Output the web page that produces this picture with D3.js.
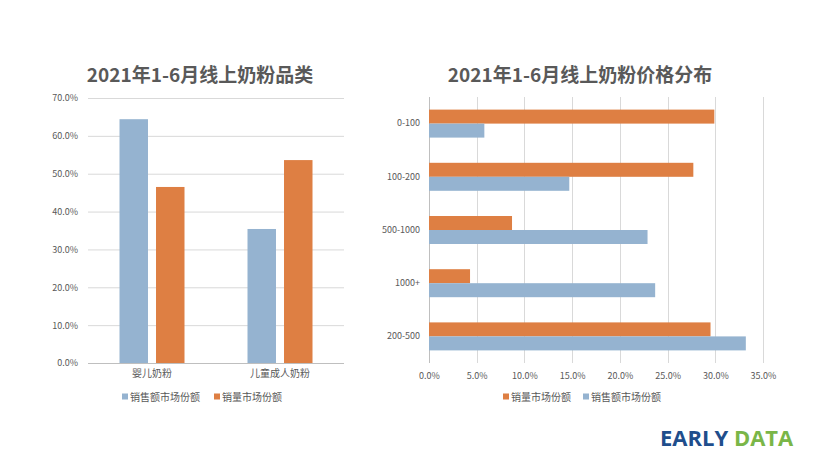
<!DOCTYPE html>
<html lang="zh">
<head>
<meta charset="utf-8">
<title>2021年1-6月线上奶粉</title>
<script src="https://d3js.org/d3.v7.min.js"></script>
<style>
  body { margin: 0; background: #fff; }
  text { font-family: "Noto Sans CJK SC", "DejaVu Sans", sans-serif; fill: #595959; }
</style>
</head>
<body>
<div id="chart"></div>
<script>
// ---- data ----
var catLeft = ["婴儿奶粉", "儿童成人奶粉"];
var salesShareLeft = [0.644, 0.354];   // 销售额市场份额
var volumeShareLeft = [0.465, 0.536];  // 销量市场份额
var yTicksLeft = [0, 0.1, 0.2, 0.3, 0.4, 0.5, 0.6, 0.7];

var catRight = ["0-100", "100-200", "500-1000", "1000+", "200-500"];
var volumeShareRight = [0.299, 0.277, 0.087, 0.043, 0.295];
var salesShareRight = [0.058, 0.147, 0.229, 0.237, 0.332];
var xTicksRight = [0, 0.05, 0.10, 0.15, 0.20, 0.25, 0.30, 0.35];

var seriesNames = ["销售额市场份额", "销量市场份额"];
var blue = "#95b3d0", orange = "#de7f43";
var color = d3.scaleOrdinal().domain(seriesNames).range([blue, orange]);

var W = 813, H = 456;
var svg = d3.select("#chart").append("svg")
  .attr("width", W).attr("height", H);

var pct = d3.format(".1%");

// ---------------- LEFT CHART ----------------
var xL = d3.scaleBand().domain(catLeft).range([88, 344]);
var yL = d3.scaleLinear().domain([0, 0.7]).range([363, 98]);
var innerL = d3.scaleBand().domain(seriesNames).range([-32.5, 32.5]).paddingInner(0.22);

svg.append("text")
  .attr("x", 200).attr("y", 82)
  .attr("text-anchor", "middle")
  .style("font-size", "19px").style("font-weight", "bold")
  .text("2021年1-6月线上奶粉品类");

// gridlines
svg.append("g").selectAll("line")
  .data(yTicksLeft).enter().append("line")
    .attr("x1", 88).attr("x2", 344)
    .attr("y1", function(d){ return yL(d) + 0.5; })
    .attr("y2", function(d){ return yL(d) + 0.5; })
    .style("stroke", function(d){ return d === 0 ? "#bfbfbf" : "#d9d9d9"; })
    .style("stroke-width", 1);

// y axis labels
svg.append("g")
  .attr("transform", "translate(78,0)")
  .call(d3.axisLeft(yL).tickValues(yTicksLeft).tickFormat(pct).tickSize(0).tickPadding(0))
  .call(function(g){ g.select(".domain").remove(); })
  .selectAll("text")
    .style("font-size", "9px").style("fill", "#595959");

var rowsL = catLeft.map(function(c, i){
  return { cat: c, vals: [
    { s: seriesNames[0], v: salesShareLeft[i] },
    { s: seriesNames[1], v: volumeShareLeft[i] } ] };
});

svg.append("g").selectAll("g")
  .data(rowsL).enter().append("g")
    .attr("transform", function(d){ return "translate(" + (xL(d.cat) + xL.bandwidth() / 2) + ",0)"; })
  .selectAll("rect")
  .data(function(d){ return d.vals; }).enter().append("rect")
    .attr("x", function(d){ return innerL(d.s); })
    .attr("width", innerL.bandwidth())
    .attr("y", function(d){ return yL(d.v); })
    .attr("height", function(d){ return yL(0) - yL(d.v); })
    .style("fill", function(d){ return color(d.s); });

// x axis labels
svg.append("g")
  .attr("transform", "translate(0,370)")
  .call(d3.axisBottom(xL).tickSize(0).tickPadding(0))
  .call(function(g){ g.select(".domain").remove(); })
  .selectAll("text")
    .attr("dy", "0.71em")
    .style("font-size", "10px").style("fill", "#595959");

// legend left
var legL = [{ s: seriesNames[0], x: 122 }, { s: seriesNames[1], x: 214 }];
var lgL = svg.append("g").selectAll("g").data(legL).enter().append("g")
  .attr("transform", function(d){ return "translate(" + d.x + ",397)"; });
lgL.append("rect").attr("x", 0).attr("y", -3.5).attr("width", 6).attr("height", 6)
  .style("fill", function(d){ return color(d.s); });
lgL.append("text").attr("x", 8).attr("y", 0).attr("dy", "0.35em")
  .style("font-size", "10px").text(function(d){ return d.s; });

// ---------------- RIGHT CHART ----------------
var xR = d3.scaleLinear().domain([0, 0.35]).range([429, 763]);
var yR = d3.scaleBand().domain(catRight).range([97, 363]);
var innerR = d3.scaleBand().domain([seriesNames[1], seriesNames[0]]).range([-14, 14]);

svg.append("text")
  .attr("x", 580).attr("y", 82)
  .attr("text-anchor", "middle")
  .style("font-size", "19px").style("font-weight", "bold")
  .text("2021年1-6月线上奶粉价格分布");

svg.append("g").selectAll("line")
  .data(xTicksRight).enter().append("line")
    .attr("x1", function(d){ return Math.round(xR(d)) + 0.5; })
    .attr("x2", function(d){ return Math.round(xR(d)) + 0.5; })
    .attr("y1", 97).attr("y2", 363)
    .style("stroke", function(d){ return d === 0 ? "#bfbfbf" : "#d9d9d9"; })
    .style("stroke-width", 1);

var rowsR = catRight.map(function(c, i){
  return { cat: c, vals: [
    { s: seriesNames[1], v: volumeShareRight[i] },
    { s: seriesNames[0], v: salesShareRight[i] } ] };
});

svg.append("g").selectAll("g")
  .data(rowsR).enter().append("g")
    .attr("transform", function(d){ return "translate(0," + (yR(d.cat) + yR.bandwidth() / 2) + ")"; })
  .selectAll("rect")
  .data(function(d){ return d.vals; }).enter().append("rect")
    .attr("x", xR(0))
    .attr("y", function(d){ return innerR(d.s); })
    .attr("height", innerR.bandwidth())
    .attr("width", function(d){ return xR(d.v) - xR(0); })
    .style("fill", function(d){ return color(d.s); });

// category labels
svg.append("g")
  .attr("transform", "translate(420,0)")
  .call(d3.axisLeft(yR).tickSize(0).tickPadding(0))
  .call(function(g){ g.select(".domain").remove(); })
  .selectAll("text")
    .style("font-size", "9px").style("fill", "#595959");

// x tick labels
svg.append("g")
  .attr("transform", "translate(0,373)")
  .call(d3.axisBottom(xR).tickValues(xTicksRight).tickFormat(pct).tickSize(0).tickPadding(0))
  .call(function(g){ g.select(".domain").remove(); })
  .selectAll("text")
    .attr("dy", "0.71em")
    .style("font-size", "9px").style("fill", "#595959");

// legend right
var legR = [{ s: seriesNames[1], x: 503 }, { s: seriesNames[0], x: 583 }];
var lgR = svg.append("g").selectAll("g").data(legR).enter().append("g")
  .attr("transform", function(d){ return "translate(" + d.x + ",397)"; });
lgR.append("rect").attr("x", 0).attr("y", -3.5).attr("width", 6).attr("height", 6)
  .style("fill", function(d){ return color(d.s); });
lgR.append("text").attr("x", 8).attr("y", 0).attr("dy", "0.35em")
  .style("font-size", "10px").text(function(d){ return d.s; });

// ---------------- LOGO ----------------
var logo = svg.append("text")
  .attr("x", 660).attr("y", 446)
  .style("font-family", "'Open Sans', 'Liberation Sans', sans-serif")
  .style("font-size", "22px").style("font-weight", "bold");
logo.append("tspan").style("fill", "#1f4e8c").text("EARLY ");
logo.append("tspan").style("fill", "#7ab648").text("DATA");
</script>
</body>
</html>
